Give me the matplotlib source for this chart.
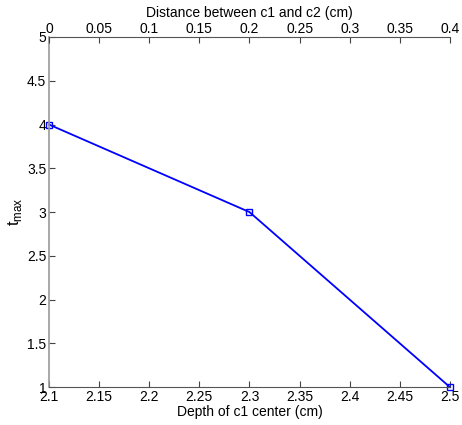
import matplotlib
matplotlib.use("Agg")
import matplotlib.pyplot as plt

plt.rcParams['font.family'] = ['Liberation Sans', 'DejaVu Sans']
plt.rcParams['font.size'] = 10

# Daten
depth = [2.1, 2.3, 2.5]
tmax = [4, 3, 1]
x_ticks = [2.1, 2.15, 2.2, 2.25, 2.3, 2.35, 2.4, 2.45, 2.5]
x_labels = ["2.1", "2.15", "2.2", "2.25", "2.3", "2.35", "2.4", "2.45", "2.5"]
top_ticks = [0, 0.05, 0.1, 0.15, 0.2, 0.25, 0.3, 0.35, 0.4]
top_labels = ["0", "0.05", "0.1", "0.15", "0.2", "0.25", "0.3", "0.35", "0.4"]
y_ticks = [1, 1.5, 2, 2.5, 3, 3.5, 4, 4.5, 5]
y_labels = ["1", "1.5", "2", "2.5", "3", "3.5", "4", "4.5", "5"]

fig = plt.figure(figsize=(4.62, 4.25), dpi=100)
ax = fig.add_axes([0.106, 0.089, 0.868, 0.824])

ax.plot(depth, tmax, color=(0, 0, 1), linewidth=1.3, marker='s', markersize=5,
        markerfacecolor='none', markeredgecolor=(0, 0, 1), markeredgewidth=1, clip_on=False)
ax.set_xlim(2.1, 2.5)
ax.set_ylim(1, 5)
ax.set_xticks(x_ticks)
ax.set_xticklabels(x_labels)
ax.set_yticks(y_ticks)
ax.set_yticklabels(y_labels)
ax.tick_params(direction='in', length=4, width=0.8, color='#444444', pad=2)
ax.set_xlabel("Depth of c1 center (cm)", labelpad=1)
ax.set_ylabel(r"t$_{\mathregular{max}}$", fontsize=12, labelpad=2)
for s in ['right', 'top']:
    ax.spines[s].set_visible(False)
ax.spines['left'].set_color('#999999')
ax.spines['bottom'].set_color('#555555')
ax.spines['left'].set_linewidth(1.2)

# obere Achse
ax2 = ax.twiny()
ax2.set_xlim(0, 0.4)
ax2.set_xticks(top_ticks)
ax2.set_xticklabels(top_labels)
ax2.tick_params(direction='in', length=4, width=0.8, color='#444444', pad=1)
ax2.set_xlabel("Distance between c1 and c2 (cm)", labelpad=3)
for s in ['right', 'left', 'bottom']:
    ax2.spines[s].set_visible(False)
ax2.spines['top'].set_color('#555555')

fig.savefig("out.png", dpi=100)
